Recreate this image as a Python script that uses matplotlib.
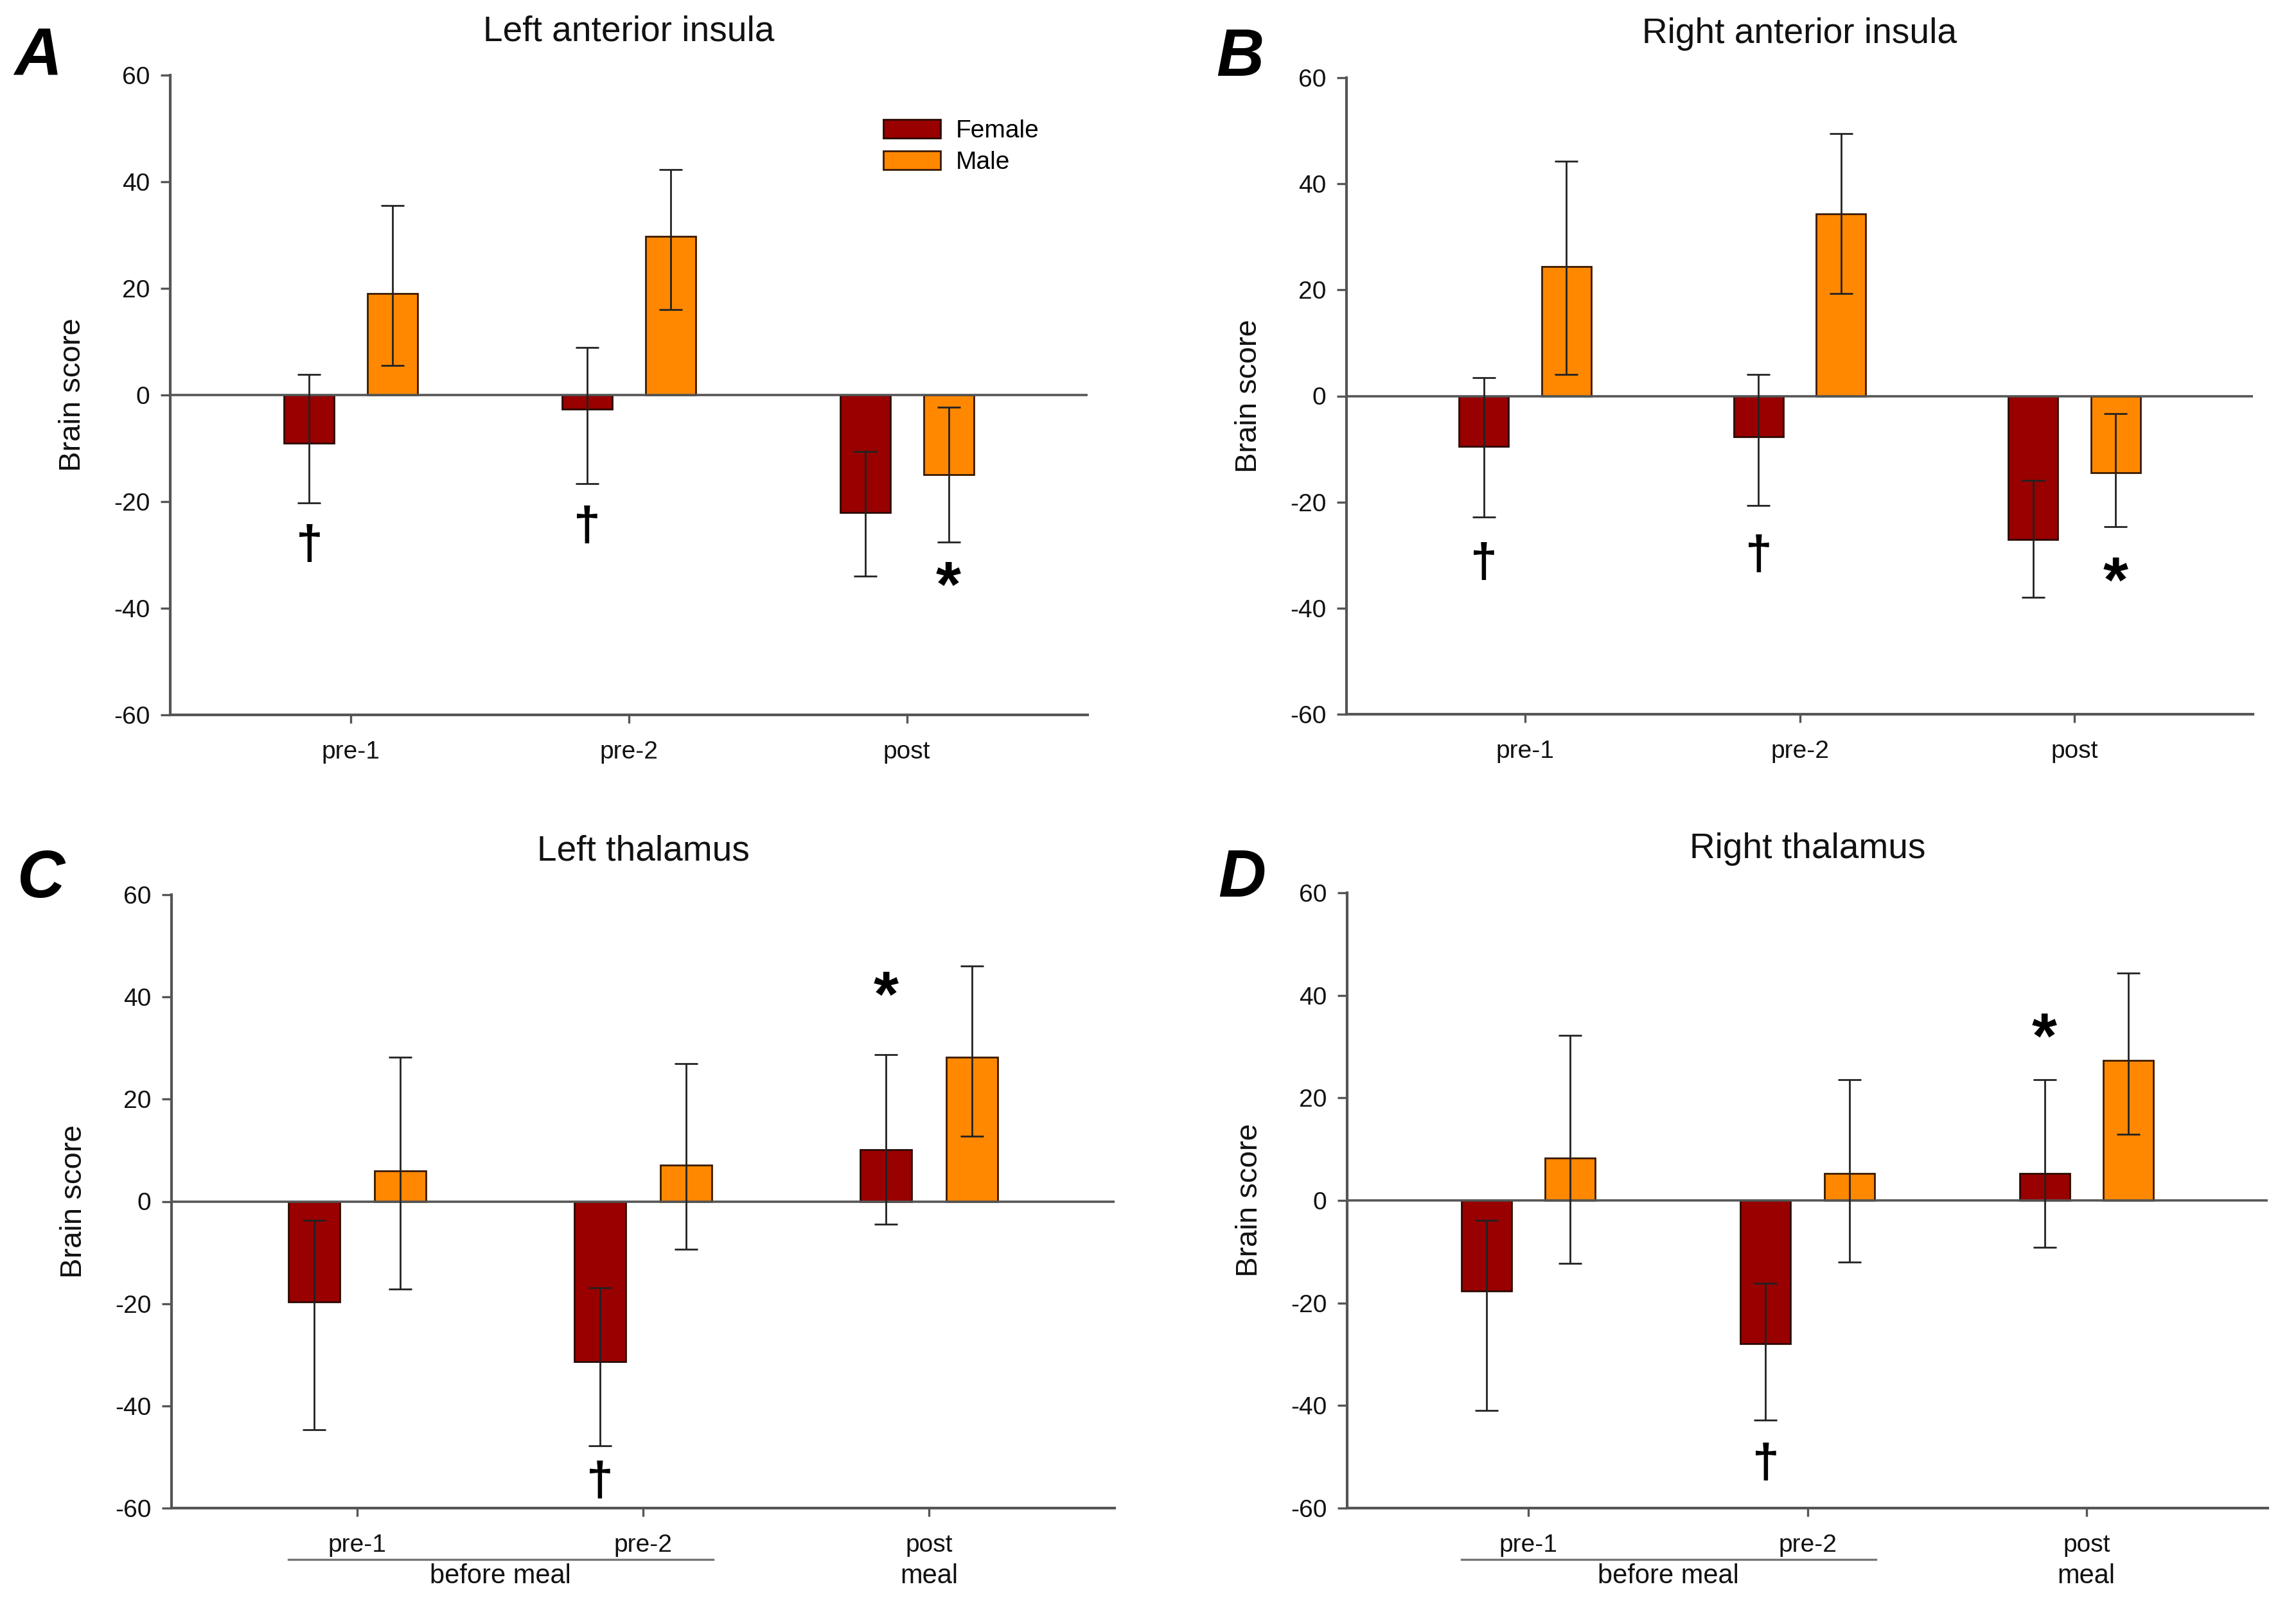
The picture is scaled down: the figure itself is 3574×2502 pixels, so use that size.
import matplotlib
matplotlib.use("Agg")
import matplotlib.pyplot as plt
from matplotlib.lines import Line2D
import matplotlib.transforms as mtransforms

plt.rcParams['font.family'] = ['Liberation Sans', 'DejaVu Sans']

# ---------------- data ----------------
categories = ["pre-1", "pre-2", "post"]
groups = ["Female", "Male"]

titles = ["Left anterior insula", "Right anterior insula", "Left thalamus", "Right thalamus"]
letters = ["A", "B", "C", "D"]

# Panel A
A_female = [-9.0, -2.7, -22.1]
A_female_lo = [11.2, 13.9, 11.9]
A_female_hi = [12.8, 11.6, 11.5]
A_male = [19.0, 29.8, -14.9]
A_male_lo = [13.5, 13.8, 12.7]
A_male_hi = [16.6, 12.5, 12.6]
# Panel B
B_female = [-9.5, -7.7, -27.1]
B_female_lo = [13.3, 13.0, 10.9]
B_female_hi = [12.9, 11.7, 11.2]
B_male = [24.4, 34.3, -14.5]
B_male_lo = [20.4, 15.0, 10.2]
B_male_hi = [19.8, 15.2, 11.2]
# Panel C
C_female = [-19.7, -31.4, 10.1]
C_female_lo = [25.0, 16.4, 14.5]
C_female_hi = [16.0, 14.5, 18.6]
C_male = [6.0, 7.1, 28.2]
C_male_lo = [23.2, 16.4, 15.5]
C_male_hi = [22.2, 19.8, 17.8]
# Panel D
D_female = [-17.6, -27.9, 5.2]
D_female_lo = [23.4, 15.0, 14.3]
D_female_hi = [13.7, 11.7, 18.3]
D_male = [8.3, 5.3, 27.3]
D_male_lo = [20.6, 17.3, 14.4]
D_male_hi = [23.9, 18.2, 17.1]

# significance marks: (symbol, category index, group, y value)
A_marks = [("†", 0, "Female", -28.1), ("†", 1, "Female", -24.6), ("*", 2, "Male", -33.8)]
B_marks = [("†", 0, "Female", -31.5), ("†", 1, "Female", -30.0), ("*", 2, "Male", -32.9)]
C_marks = [("†", 1, "Female", -54.8), ("*", 2, "Female", 42.3)]
D_marks = [("†", 1, "Female", -51.3), ("*", 2, "Female", 33.9)]

yticks = [-60, -40, -20, 0, 20, 40, 60]

panels = [
    (A_female, A_female_lo, A_female_hi, A_male, A_male_lo, A_male_hi, A_marks),
    (B_female, B_female_lo, B_female_hi, B_male, B_male_lo, B_male_hi, B_marks),
    (C_female, C_female_lo, C_female_hi, C_male, C_male_lo, C_male_hi, C_marks),
    (D_female, D_female_lo, D_female_hi, D_male, D_male_lo, D_male_hi, D_marks),
]

# ---------------- style ----------------
W, H = 3574, 2502
DPI = 200
fig = plt.figure(figsize=(W / DPI, H / DPI), dpi=DPI)

axes_px = [  # left, right, top, bottom (pixels)
    (265, 1693, 117, 1113),
    (2096, 3507, 121, 1112),
    (267, 1735, 1393, 2348),
    (2097, 3530, 1390, 2348),
]
letter_px = [(59, 90), (1930, 91), (64, 1370), (1933, 1370)]

col_f = "#990000"
col_m = "#FF8800"
spine_col = "#555555"
bw = 0.18
off = 0.15
x = list(range(len(categories)))

for i, (fem, flo, fhi, mal, mlo, mhi, marks) in enumerate(panels):
    l, r, t, b = axes_px[i]
    ax = fig.add_axes([l / W, 1 - b / H, (r - l) / W, (b - t) / H])
    xf = [v - off for v in x]
    xm = [v + off for v in x]
    bf = ax.bar(xf, fem, width=bw, color=col_f, edgecolor="#2a0a00", linewidth=1.0,
                label="Female", zorder=2)
    bm = ax.bar(xm, mal, width=bw, color=col_m, edgecolor="#3a1a00", linewidth=1.0,
                label="Male", zorder=2)
    ax.errorbar(xf, fem, yerr=[flo, fhi], fmt="none", ecolor="#222222", elinewidth=1.0,
                capsize=6.5, capthick=1.0, zorder=3)
    ax.errorbar(xm, mal, yerr=[mlo, mhi], fmt="none", ecolor="#222222", elinewidth=1.0,
                capsize=6.5, capthick=1.0, zorder=3)
    ax.axhline(0, color="#555555", linewidth=1.3, zorder=2.5)

    ax.set_xlim(-0.65, 2.65)
    ax.set_ylim(-60, 60)
    ax.set_yticks(yticks)
    ax.set_yticklabels([str(v) for v in yticks])
    ax.set_xticks(x)
    ax.set_xticklabels(categories)
    for s in ["top", "right"]:
        ax.spines[s].set_visible(False)
    for s in ["left", "bottom"]:
        ax.spines[s].set_color(spine_col)
        ax.spines[s].set_linewidth(1.5)
    ax.tick_params(axis="y", length=5.4, width=1.2, color=spine_col, labelsize=14, pad=6,
                   labelcolor="#111111")
    ax.tick_params(axis="x", length=4.5, width=1.2, color=spine_col, labelsize=14, pad=10,
                   labelcolor="#111111")
    ax.set_ylabel("Brain score", fontsize=17, color="#111111")
    ax.yaxis.set_label_coords(-130 / (r - l), 0.5)
    ax.text(0.5, 1 + 68 / (b - t), titles[i], transform=ax.transAxes, ha="center",
            va="center", fontsize=19.8, color="#111111")
    fig.text(letter_px[i][0] / W, 1 - letter_px[i][1] / H, letters[i], ha="center",
             va="center", fontsize=37, fontweight="bold", fontstyle="italic", color="black")

    for sym, ci, grp, yv in marks:
        xx = ci - off if grp == "Female" else ci + off
        if sym == "*":
            fs, k = 36, 0.48
        else:
            fs, k = 27, 0.29
        ax.annotate(sym, xy=(xx, yv), xytext=(0, -k * fs), textcoords="offset points",
                    ha="center", va="baseline", fontsize=fs, fontweight="bold",
                    color="black", annotation_clip=False)

    if i >= 2:
        trans = mtransforms.blended_transform_factory(ax.transData, ax.transAxes)
        ly = -80 / (b - t)
        ax.add_line(Line2D([-0.24, 1.245], [ly, ly], transform=trans, color="#777777",
                           linewidth=1.2, clip_on=False))
        ty = -106 / (b - t)
        ax.text(0.5, ty, "before meal", transform=trans, ha="center", va="center",
                fontsize=15, color="#111111")
        ax.text(2.0, ty, "meal", transform=trans, ha="center", va="center",
                fontsize=15, color="#111111")

    if i == 0:
        ax.legend(handles=[bf, bm], labels=groups, loc="upper left",
                  bbox_to_anchor=(0.777, 0.931), frameon=False, fontsize=14,
                  handlelength=2.29, handleheight=0.77, handletextpad=0.62,
                  labelspacing=0.33, borderpad=0, borderaxespad=0)

fig.savefig("out.png", dpi=DPI, facecolor="white")
